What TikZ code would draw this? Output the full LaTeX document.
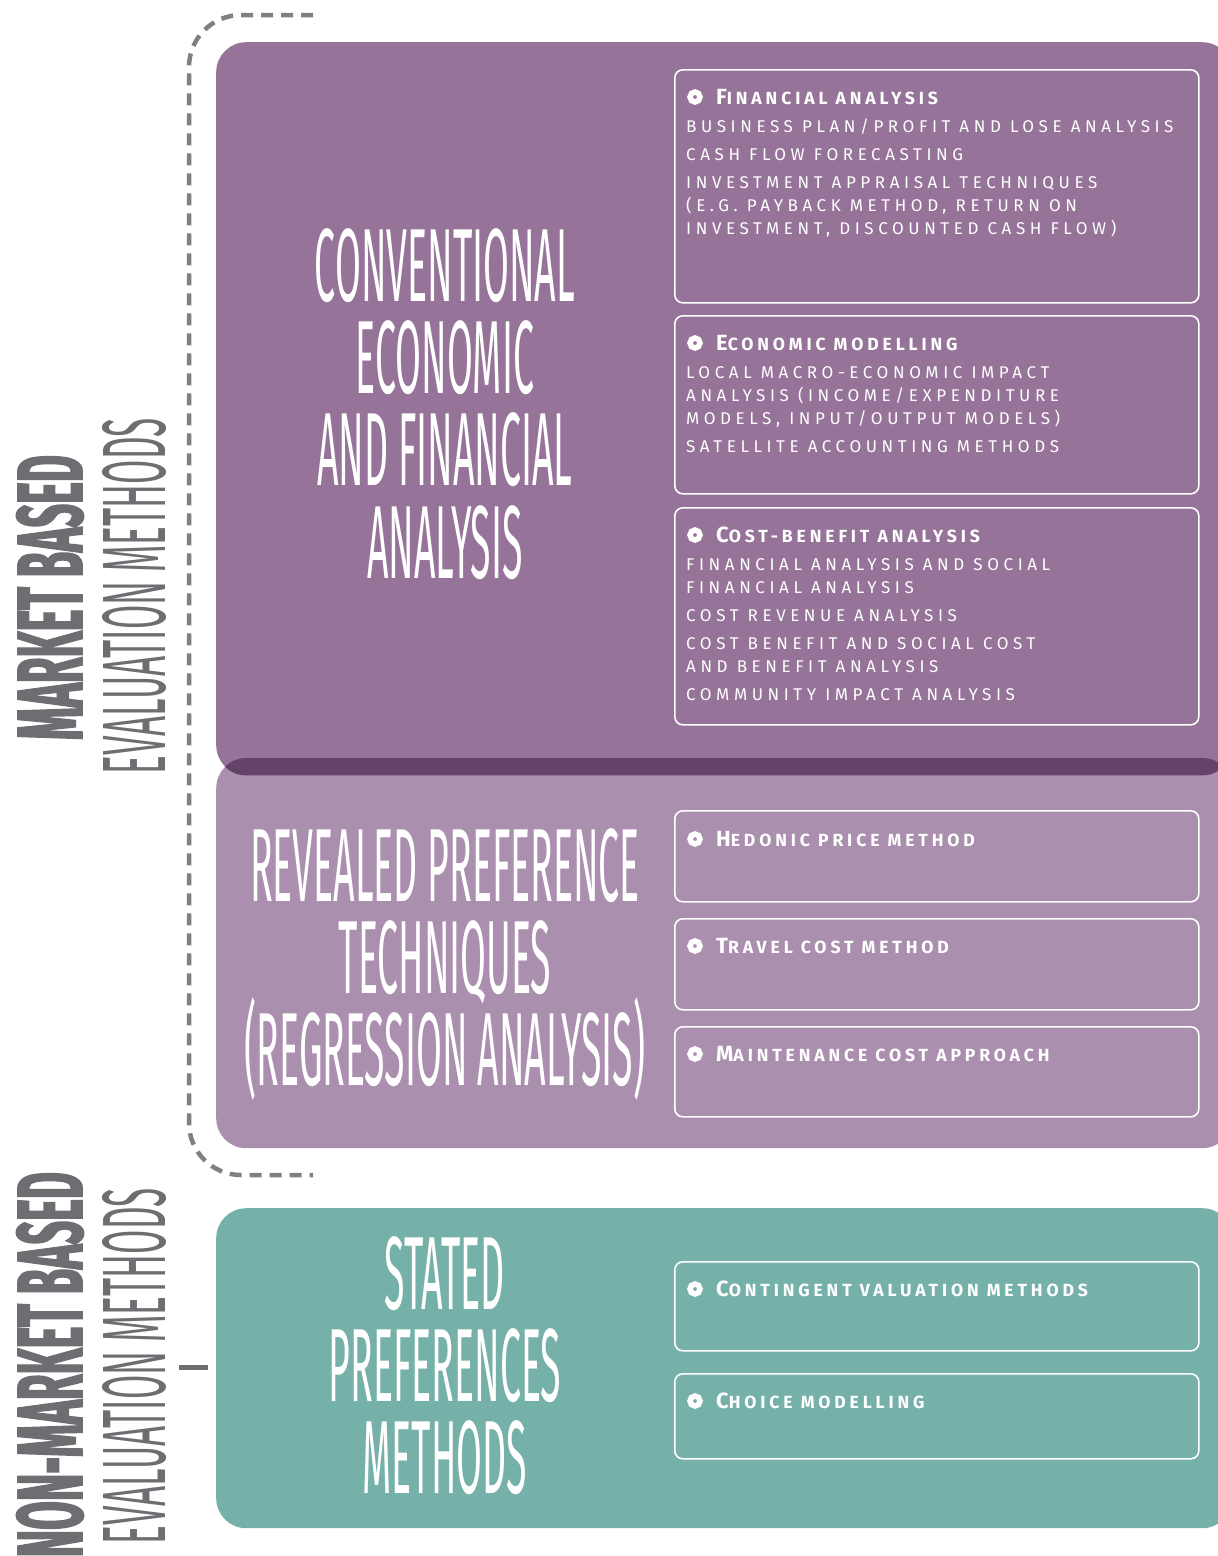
\documentclass[tikz,border=0pt]{standalone}
\usepackage{fontspec}
\setmainfont{Fira Sans}
\newfontfamily\thinfont[FakeStretch=0.36]{Fira Sans}
\newfontfamily\evalfont[FakeStretch=0.39]{Fira Sans}
\newfontfamily\heavyfont[FakeStretch=0.445, FakeBold=1.5]{Fira Sans}
\newfontfamily\itemfont[LetterSpace=27]{Fira Sans}
\newfontfamily\headfont[LetterSpace=22]{Fira Sans}
\usetikzlibrary{positioning}

\definecolor{convpurple}{RGB}{150,116,153}
\definecolor{revpurple}{RGB}{171,143,174}
\definecolor{bandpurple}{RGB}{101,66,106}
\definecolor{statteal}{RGB}{118,177,169}
\definecolor{sidegray}{RGB}{109,110,113}
\definecolor{dashgray}{RGB}{128,128,128}

\tikzstyle{bigbox} = [rectangle, rounded corners = 30, anchor = north west,
  inner sep = 0, minimum width = 1016]
\tikzstyle{ibox} = [rectangle, rounded corners = 8, draw = white,
  line width = 1.6, minimum width = 524, inner sep = 0]
\tikzstyle{bullet} = [circle, draw = white, line width = 5.5,
  minimum size = 10, inner sep = 0]
\tikzstyle{head} = [font = \headfont\bfseries\fontsize{17.6}{17.6}\selectfont,
  text = white, anchor = base west, inner sep = 0]
\tikzstyle{body} = [font = \itemfont\fontsize{17}{23}\selectfont,
  text = white, align = left, anchor = north west, inner sep = 0]
\tikzstyle{title} = [font = \thinfont\fontsize{104}{104}\selectfont,
  text = white, text height = 72, text depth = 0, inner sep = 0]
\tikzstyle{side} = [text = sidegray, rotate = 90, anchor = east,
  inner sep = 0]

\newcommand{\hd}[2]{{\fontsize{22}{22}\selectfont #1}#2}

\begin{document}
\begin{tikzpicture}[x = 1pt, y = -1pt, node distance = 20pt]
      \useasboundingbox (0, 0) rectangle (1218, 1556);
      \clip (0, 0) rectangle (1218, 1556);

      % big boxes
      \node [bigbox, fill = convpurple, minimum height = 733] (conv) at (216, 42) {};
      \node [bigbox, fill = revpurple, minimum height = 390] (rev) at (216, 758) {};
      \node [bigbox, fill = statteal, minimum height = 320] (stat) at (216, 1208) {};
      \begin{scope}
        \clip [rounded corners = 30] (conv.north west) rectangle (conv.south east);
        \fill [bandpurple, rounded corners = 30] (rev.north west) rectangle (rev.south east);
      \end{scope}

      % titles
      \node [title] (conv-1) at (445, 265) {CONVENTIONAL};
      \node [title, below = of conv-1] (conv-2) {ECONOMIC};
      \node [title, below = of conv-2] (conv-3) {AND FINANCIAL};
      \node [title, below = of conv-3] (conv-4) {ANALYSIS};

      \node [title] (rev-1) at (445, 865) {REVEALED PREFERENCE};
      \node [title, below = of rev-1] (rev-2) {TECHNIQUES};
      \node [title, below = of rev-2] (rev-3) {(REGRESSION ANALYSIS)};

      \node [title] (stat-1) at (445, 1273) {STATED};
      \node [title, below = of stat-1] (stat-2) {PREFERENCES};
      \node [title, below = of stat-2] (stat-3) {METHODS};

      % conventional
      \node [ibox, anchor = north west, minimum height = 233] (fin) at (674, 69) {};
      \node [ibox, minimum height = 178, below = 11.4pt of fin] (eco) {};
      \node [ibox, minimum height = 217, below = 12.4pt of eco] (cba) {};

      \node [bullet, xshift = 21, yshift = -28] (fin-b) at (fin.north west) {};
      \node [head, xshift = 42, yshift = -35] (fin-h) at (fin.north west) {\hd{F}{INANCIAL ANALYSIS}};
      \node [body, xshift = 12, yshift = -50] (fin-t) at (fin.north west) {%
        BUSINESS PLAN/PROFIT AND LOSE ANALYSIS\\[5pt]
        CASH FLOW FORECASTING\\[5pt]
        INVESTMENT APPRAISAL TECHNIQUES\\
        (E.G. PAYBACK METHOD, RETURN ON\\
        INVESTMENT, DISCOUNTED CASH FLOW)};

      \node [bullet, xshift = 21, yshift = -28] (eco-b) at (eco.north west) {};
      \node [head, xshift = 42, yshift = -35] (eco-h) at (eco.north west) {\hd{E}{CONOMIC MODELLING}};
      \node [body, xshift = 12, yshift = -51] (eco-t) at (eco.north west) {%
        LOCAL MACRO-ECONOMIC IMPACT\\
        ANALYSIS (INCOME/EXPENDITURE\\
        MODELS, INPUT/OUTPUT MODELS)\\[5pt]
        SATELLITE ACCOUNTING METHODS};

      \node [bullet, xshift = 21, yshift = -28] (cba-b) at (cba.north west) {};
      \node [head, xshift = 42, yshift = -35] (cba-h) at (cba.north west) {\hd{C}{OST-BENEFIT ANALYSIS}};
      \node [body, xshift = 12, yshift = -51] (cba-t) at (cba.north west) {%
        FINANCIAL ANALYSIS AND SOCIAL\\
        FINANCIAL ANALYSIS\\[5pt]
        COST REVENUE ANALYSIS\\[5pt]
        COST BENEFIT AND SOCIAL COST\\
        AND BENEFIT ANALYSIS\\[5pt]
        COMMUNITY IMPACT ANALYSIS};

      % revealed preference
      \node [ibox, anchor = north west, minimum height = 91] (hed) at (674, 810) {};
      \node [ibox, minimum height = 91, below = 15.4pt of hed] (trav) {};
      \node [ibox, minimum height = 90, below = 15.4pt of trav] (maint) {};
      \node [bullet, xshift = 21, yshift = -29] (hed-b) at (hed.north west) {};
      \node [head, xshift = 42, yshift = -36] (hed-h) at (hed.north west) {\hd{H}{EDONIC PRICE METHOD}};
      \node [bullet, xshift = 21, yshift = -28] (trav-b) at (trav.north west) {};
      \node [head, xshift = 42, yshift = -35] (trav-h) at (trav.north west) {\hd{T}{RAVEL COST METHOD}};
      \node [bullet, xshift = 21, yshift = -28] (maint-b) at (maint.north west) {};
      \node [head, xshift = 42, yshift = -35] (maint-h) at (maint.north west) {\hd{M}{AINTENANCE COST APPROACH}};

      % stated preferences
      \node [ibox, anchor = north west, minimum height = 89] (cont) at (674, 1261) {};
      \node [ibox, minimum height = 85, below = 21.4pt of cont] (choice) {};
      \node [bullet, xshift = 21, yshift = -28] (cont-b) at (cont.north west) {};
      \node [head, xshift = 42, yshift = -35] (cont-h) at (cont.north west) {\hd{C}{ONTINGENT VALUATION METHODS}};
      \node [bullet, xshift = 21, yshift = -28] (choice-b) at (choice.north west) {};
      \node [head, xshift = 42, yshift = -35] (choice-h) at (choice.north west) {\hd{C}{HOICE MODELLING}};

      % side labels
      \node [side, font = \heavyfont\bfseries\fontsize{93}{93}\selectfont] (mkt) at (50, 455) {MARKET BASED};
      \node [side, font = \evalfont\fontsize{90}{90}\selectfont] (mkt-eval) at (134, 418) {EVALUATION METHODS};
      \node [side, font = \heavyfont\bfseries\fontsize{93}{93}\selectfont] (nonmkt) at (50, 1172) {NON-MARKET BASED};
      \node [side, font = \evalfont\fontsize{90}{90}\selectfont] (nonmkt-eval) at (134, 1188) {EVALUATION METHODS};

      % bracket and tick
      \coordinate (brk-top) at (313, 15);
      \coordinate (brk-bot) at (313, 1175);
      \draw [dashgray, line width = 4.5, dash pattern = on 12pt off 8pt,
        rounded corners = 52] (brk-top) -| (189, 1175) -- (brk-bot);
      \coordinate (tick-a) at (179, 1367);
      \coordinate (tick-b) at (208, 1367);
      \draw [sidegray, line width = 5] (tick-a) -- (tick-b);
    \end{tikzpicture}
\end{document}
